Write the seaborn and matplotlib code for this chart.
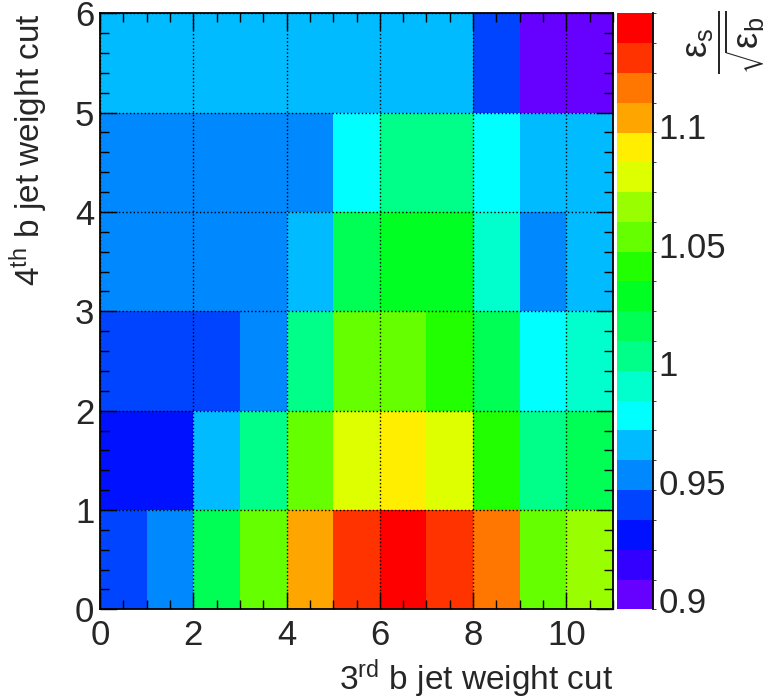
import numpy as np
import pandas as pd
import matplotlib
matplotlib.use("Agg")
import matplotlib.pyplot as plt
from matplotlib.colors import ListedColormap, BoundaryNorm
import seaborn as sns

# ---------------- data ----------------
x_bins = [0, 1, 2, 3, 4, 5, 6, 7, 8, 9, 10]   # 3rd b jet weight cut (bin low edges)
y_bins = [0, 1, 2, 3, 4, 5]                   # 4th b jet weight cut (bin low edges)

row_y0 = [0.940, 0.953, 1.016, 1.054, 1.104, 1.129, 1.146, 1.130, 1.117, 1.052, 1.067]
row_y1 = [0.928, 0.927, 0.965, 1.003, 1.053, 1.079, 1.091, 1.078, 1.041, 1.004, 1.015]
row_y2 = [0.940, 0.939, 0.941, 0.953, 1.003, 1.054, 1.055, 1.041, 1.016, 0.978, 0.991]
row_y3 = [0.952, 0.953, 0.952, 0.952, 0.965, 1.016, 1.028, 1.029, 0.990, 0.953, 0.965]
row_y4 = [0.953, 0.952, 0.953, 0.952, 0.953, 0.978, 1.003, 1.004, 0.978, 0.965, 0.966]
row_y5 = [0.965, 0.966, 0.965, 0.965, 0.966, 0.965, 0.964, 0.965, 0.940, 0.897, 0.899]

x_ticks = [0, 2, 4, 6, 8, 10]
y_ticks = [0, 1, 2, 3, 4, 5, 6]
z_ticks = [0.9, 0.95, 1.0, 1.05, 1.1]
z_tick_labels = ["0.9", "0.95", "1", "1.05", "1.1"]
z_min, z_max = 0.8962, 1.1477
n_levels = 20

# ROOT-like rainbow palette (violet -> red), one colour per contour level
palette = ["#6600FF", "#3300FF", "#0011FF", "#0044FF", "#0088FF",
           "#00BBFF", "#00FFFF", "#00FFCC", "#00FF88", "#00FF55",
           "#00FF22", "#22FF00", "#66FF00", "#99FF00", "#DDFF00",
           "#FFEE00", "#FFA500", "#FF7700", "#FF3300", "#FF0000"]

# ---------------- style ----------------
sns.set_style("ticks")
plt.rcParams["font.family"] = ["Liberation Sans", "DejaVu Sans"]
plt.rcParams["mathtext.default"] = "regular"

W, H = 769, 700
fig = plt.figure(figsize=(W / 100, H / 100), dpi=100)
ax = fig.add_axes([100 / W, (H - 609.3) / H, 513 / W, 596 / H])
cax = fig.add_axes([617 / W, (H - 609.3) / H, 36 / W, 596 / H])

df = pd.DataFrame([row_y0, row_y1, row_y2, row_y3, row_y4, row_y5],
                  index=y_bins, columns=x_bins)

levels = np.linspace(z_min, z_max, n_levels + 1)
cmap = ListedColormap(palette)
norm = BoundaryNorm(levels, cmap.N)

sns.heatmap(df, ax=ax, cmap=cmap, norm=norm, cbar=True, cbar_ax=cax,
            cbar_kws={"ticks": z_ticks}, xticklabels=False, yticklabels=False)

# main axes: ROOT-like frame
ax.set_xlim(0, len(x_bins))
ax.set_ylim(0, len(y_bins))
for s in ax.spines.values():
    s.set_visible(True)
    s.set_color("black")
    s.set_linewidth(1.3)

ax.set_xticks(x_ticks)
ax.set_xticklabels([str(t) for t in x_ticks], fontsize=25)
ax.set_xticks(np.arange(0, 11.01, 0.5), minor=True)
ax.set_yticks(y_ticks)
ax.set_yticklabels([str(t) for t in y_ticks], fontsize=25, rotation=0)
ax.set_yticks(np.arange(0, 6.01, 0.2), minor=True)

ax.tick_params(which="both", direction="in", top=True, right=True,
               bottom=True, left=True, color="black", width=1.0)
ax.tick_params(which="major", length=12.5)
ax.tick_params(which="minor", length=6.3)
ax.tick_params(axis="x", which="major", pad=7)
ax.tick_params(axis="y", which="major", pad=4)

ax.grid(True, which="major", color="black", linestyle=":", linewidth=1.0)
ax.set_axisbelow(False)

ax.set_xlabel("3$^{rd}$ b jet weight cut", fontsize=24, loc="right", labelpad=4)
ax.set_ylabel("4$^{th}$ b jet weight cut", fontsize=24, loc="top", labelpad=18)

# colour bar
cbar = ax.collections[0].colorbar
cbar.outline.set_visible(False)
cax.spines["right"].set_visible(True)
cax.spines["right"].set_color("black")
cax.spines["right"].set_linewidth(1.3)
cbar.set_ticks(z_ticks)
cbar.set_ticklabels(z_tick_labels)
cax.tick_params(direction="in", length=13.5, width=1.0, color="black",
                labelsize=25, pad=4, right=True, left=False)

fig.text(0.944, 0.985, r"$\dfrac{\epsilon_{s}}{\sqrt{\epsilon_{b}}}$",
         rotation=90, ha="center", va="top", fontsize=26)

fig.savefig("out.png", dpi=100)
